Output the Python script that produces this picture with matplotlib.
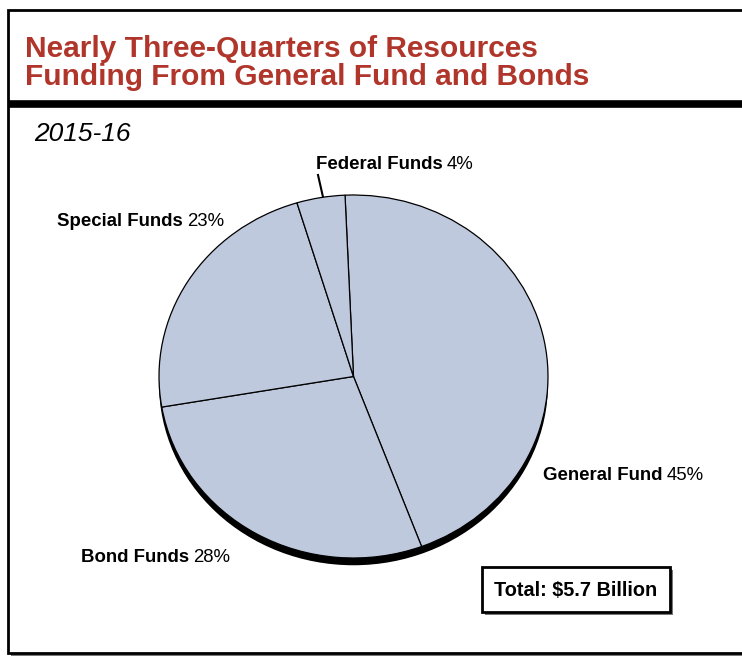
import matplotlib.pyplot as plt
from matplotlib.patches import Rectangle, Ellipse

# dados do gráfico
fontes = ["General Fund", "Bond Funds", "Special Funds", "Federal Funds"]
percentuais = [45, 28, 23, 4]
titulo = "Nearly Three-Quarters of Resources\nFunding From General Fund and Bonds"
subtitulo = "2015-16"
total = "Total: $5.7 Billion"

W, H = 742, 658
cor_titulo = "#B0362B"
cor_pizza = "#BFC9DE"

plt.rcParams["font.family"] = ["Liberation Sans", "DejaVu Sans"]

fig = plt.figure(figsize=(W / 100, H / 100), dpi=100)

# eixo de fundo em coordenadas de pixel (y para baixo)
fundo = fig.add_axes([0, 0, 1, 1])
fundo.set_xlim(0, W)
fundo.set_ylim(H, 0)
fundo.axis("off")

# moldura com sombra
fundo.add_patch(Rectangle((11, 13), W, 643, facecolor="#777777", edgecolor="none", zorder=1))
fundo.add_patch(Rectangle((8, 10), W, 643, facecolor="white", edgecolor="black", lw=2, zorder=2))
fundo.plot([8, W], [104, 104], color="black", lw=5.5, zorder=3, solid_capstyle="butt")

fundo.text(25, 57, titulo.split("\n")[0], color=cor_titulo, fontsize=21.5, fontweight="bold", zorder=4)
fundo.text(25, 85, titulo.split("\n")[1], color=cor_titulo, fontsize=21.5, fontweight="bold", zorder=4)
fundo.text(34, 141, subtitulo, fontsize=19, fontstyle="italic", zorder=4)

# pizza (elíptica)
px0, px1, py0, py1 = 159, 548, 195, 558
ax = fig.add_axes([px0 / W, 1 - py1 / H, (px1 - px0) / W, (py1 - py0) / H])
ax.pie(percentuais, startangle=92.5, counterclock=False, colors=[cor_pizza] * 4,
       wedgeprops={"edgecolor": "black", "linewidth": 0.9})
ax.set_aspect("auto")
ax.set_xlim(-1, 1)
ax.set_ylim(-1, 1)
ax.add_patch(Ellipse((0, -0.04), 2, 2, facecolor="black", edgecolor="none", zorder=0, clip_on=False))
ax.axis("off")

# rótulos: nome em negrito + percentual normal
renderer = fig.canvas.get_renderer()


def rotulo(x, y, nome, pct):
    t = fundo.text(x, y, nome, fontsize=13.4, fontweight="bold", va="baseline", zorder=5)
    bb = t.get_window_extent(renderer=renderer)
    fundo.text(bb.x1 + 4, y, f"{pct}%", fontsize=13.4, va="baseline", zorder=5)


rotulo(543, 480, fontes[0], percentuais[0])
rotulo(81, 562, fontes[1], percentuais[1])
rotulo(57, 226, fontes[2], percentuais[2])
rotulo(316, 169, fontes[3], percentuais[3])
fundo.plot([318, 323], [175, 197], color="black", lw=1.5, zorder=5)

# caixa do total
fundo.add_patch(Rectangle((485, 570), 188, 45, facecolor="#777777", edgecolor="none", zorder=5))
fundo.add_patch(Rectangle((482, 567), 188, 45, facecolor="white", edgecolor="black", lw=2, zorder=6))
fundo.text(576, 590, total, fontsize=14.3, fontweight="bold", ha="center", va="center", zorder=7)

plt.savefig("out.png", dpi=100)
